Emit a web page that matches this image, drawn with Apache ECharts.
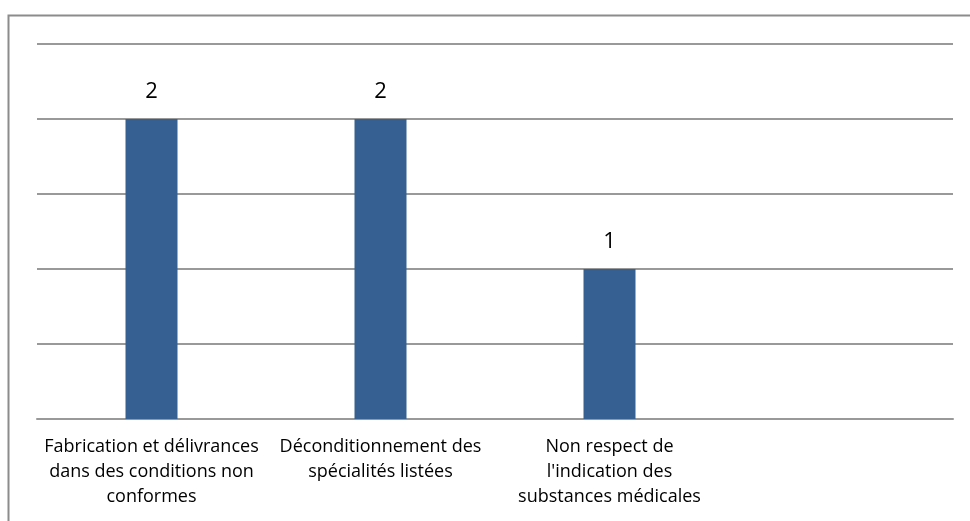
<!DOCTYPE html>
<html>
<head>
<meta charset="utf-8">
<script src="https://cdn.jsdelivr.net/npm/echarts@6/dist/echarts.min.js"></script>
<style>
  html, body { margin: 0; padding: 0; background: #fff; }
  #chart { width: 970px; height: 521px; }
</style>
</head>
<body>
<div id="chart"></div>
<script>
const categories = [
  'Fabrication et délivrances\ndans des conditions non\nconformes',
  'Déconditionnement des\nspécialités listées',
  'Non respect de\nl\'indication des\nsubstances médicales',
  ''
]
const values = [2, 2, 1, null]

const chart = echarts.init(document.getElementById('chart'), null, { renderer: 'canvas' })
chart.setOption({
  animation: false,
  graphic: [
    {
      type: 'polyline',
      shape: { points: [[8.5, 521], [8.5, 15.5], [970, 15.5]] },
      style: { stroke: '#8c8c8c', lineWidth: 2, fill: null }
    }
  ],
  grid: { left: 37, right: 17, top: 44, bottom: 102 },
  xAxis: {
    type: 'category',
    data: categories,
    axisLine: { lineStyle: { color: '#999', width: 2 } },
    axisTick: { show: false },
    axisLabel: {
      interval: 0,
      color: '#000',
      fontFamily: 'Open Sans',
      fontSize: 18,
      lineHeight: 25,
      margin: 15
    }
  },
  yAxis: {
    type: 'value',
    min: 0,
    max: 2.5,
    interval: 0.5,
    axisLabel: { show: false },
    axisLine: { show: false },
    axisTick: { show: false },
    splitLine: { lineStyle: { color: '#999', width: 2 } }
  },
  series: [
    {
      type: 'bar',
      data: values,
      barWidth: 52,
      itemStyle: { color: '#376092' },
      label: {
        show: true,
        position: 'top',
        distance: 16,
        color: '#000',
        fontFamily: 'Open Sans',
        fontSize: 22
      }
    }
  ]
})
</script>
</body>
</html>
